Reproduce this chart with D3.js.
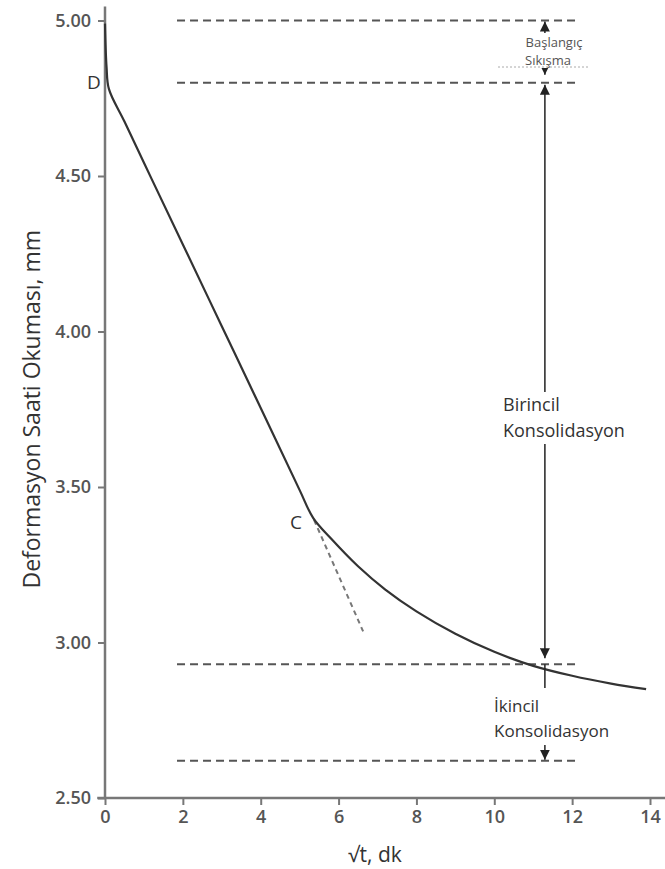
<!DOCTYPE html>
<html>
<head>
<meta charset="utf-8">
<script src="https://cdn.jsdelivr.net/npm/d3@7"></script>
<style>
  body { margin: 0; background: #fff; }
  text { font-family: "Open Sans", "Noto Sans", sans-serif; }
</style>
</head>
<body>
<div id="chart"></div>
<script>
// Curve: sqrt(t) vs dial reading
const sqrtT = [0, 0.04, 0.1, 0.5, 1.2, 2, 3, 4, 5, 5.35, 5.8, 6.5, 7.2, 8, 9, 10, 11, 12, 13, 13.9];
const reading = [4.99, 4.85, 4.78, 4.675, 4.49, 4.28, 4.017, 3.754, 3.49, 3.40, 3.335, 3.245, 3.17, 3.10, 3.028, 2.97, 2.925, 2.893, 2.868, 2.85];

// Tangent extension from C
const tangentX = [5.37, 6.63];
const tangentY = [3.394, 3.036];

// Reference levels (dashed)
const levels = [5.00, 4.80, 2.93, 2.62];
const levelSpan = [1.85, 12.2];
const arrowX = 11.3;

const xTicks = [0, 2, 4, 6, 8, 10, 12, 14];
const yTicks = [2.5, 3.0, 3.5, 4.0, 4.5, 5.0];

const width = 665, height = 869;

const svg = d3.select('#chart')
    .append('svg')
    .attr('width', width)
    .attr('height', height);

const x = d3.scaleLinear().domain([0, 14]).range([105, 650]);
const y = d3.scaleLinear().domain([2.5, 5]).range([798, 20.5]);

const axisColor = '#777';
const labelColor = '#555';

// Arrow markers
const defs = svg.append('defs');
defs.append('marker')
    .attr('id', 'arr')
    .attr('viewBox', '0 0 10 10')
    .attr('refX', 10).attr('refY', 5)
    .attr('markerWidth', 10).attr('markerHeight', 10)
    .attr('markerUnits', 'userSpaceOnUse')
    .attr('orient', 'auto-start-reverse')
    .append('path')
    .attr('d', 'M0,0 L10,5 L0,10 z')
    .attr('fill', '#222');

// Y axis
const yAxis = svg.append('g')
    .attr('transform', `translate(${x(0)},0)`)
    .call(d3.axisLeft(y).tickValues(yTicks).tickFormat(d3.format('.2f')).tickSize(7).tickSizeOuter(0));
yAxis.select('.domain').remove();
yAxis.selectAll('.tick line').attr('stroke', axisColor).attr('stroke-width', 2);
yAxis.selectAll('.tick text')
    .attr('x', -14)
    .attr('fill', labelColor)
    .attr('font-size', 18)
    .attr('font-weight', 600);

// X axis
const xAxis = svg.append('g')
    .attr('transform', `translate(0,${y(2.5)})`)
    .call(d3.axisBottom(x).tickValues(xTicks).tickSize(7).tickSizeOuter(0));
xAxis.select('.domain').remove();
xAxis.selectAll('.tick line').attr('stroke', axisColor).attr('stroke-width', 2);
xAxis.selectAll('.tick text')
    .attr('y', 12)
    .attr('fill', labelColor)
    .attr('font-size', 18)
    .attr('font-weight', 600);

// axis lines
svg.append('line')
    .attr('x1', x(0)).attr('x2', x(0))
    .attr('y1', y(2.5)).attr('y2', y(5.045))
    .attr('stroke', axisColor).attr('stroke-width', 2.5);
svg.append('line')
    .attr('x1', x(-0.2)).attr('x2', x(14.4))
    .attr('y1', y(2.5)).attr('y2', y(2.5))
    .attr('stroke', axisColor).attr('stroke-width', 2.5);

// Axis titles
svg.append('text')
    .attr('transform', `translate(40,${(y(2.5) + y(5)) / 2}) rotate(-90)`)
    .attr('text-anchor', 'middle')
    .attr('font-size', 23)
    .attr('fill', '#333')
    .text('Deformasyon Saati Okuması, mm');

svg.append('text')
    .attr('x', 375)
    .attr('y', 862)
    .attr('text-anchor', 'middle')
    .attr('font-size', 21)
    .attr('fill', '#333')
    .text('√t, dk');

// Dashed levels
svg.selectAll('line.level')
    .data(levels)
    .enter()
    .append('line')
    .attr('class', 'level')
    .attr('x1', x(levelSpan[0]))
    .attr('x2', x(levelSpan[1]))
    .attr('y1', d => y(d))
    .attr('y2', d => y(d))
    .attr('stroke', '#555')
    .attr('stroke-width', 2)
    .attr('stroke-dasharray', '8,5');

// Tangent line
svg.append('line')
    .attr('x1', x(tangentX[0])).attr('y1', y(tangentY[0]))
    .attr('x2', x(tangentX[1])).attr('y2', y(tangentY[1]))
    .attr('stroke', '#777')
    .attr('stroke-width', 2)
    .attr('stroke-dasharray', '5,4');

// Curve
const curveData = sqrtT.map((d, i) => ({ x: d, y: reading[i] }));
svg.append('path')
    .datum(curveData)
    .attr('fill', 'none')
    .attr('stroke', '#333')
    .attr('stroke-width', 2.2)
    .attr('d', d3.line().x(d => x(d.x)).y(d => y(d.y)).curve(d3.curveCatmullRom.alpha(0.5)));

// Vertical arrows
const ax = x(arrowX);
function vline(y1, y2, startArrow, endArrow) {
    const l = svg.append('line')
        .attr('x1', ax).attr('x2', ax)
        .attr('y1', y1).attr('y2', y2)
        .attr('stroke', '#222')
        .attr('stroke-width', 1.5);
    if (startArrow) l.attr('marker-start', 'url(#arr)');
    if (endArrow) l.attr('marker-end', 'url(#arr)');
}
// initial compression
vline(y(levels[0]) + 1, y(levels[1]) - 8, true, true);
// primary consolidation
vline(y(levels[1]) + 2, 392, true, false);
vline(444, y(levels[2]) - 6, false, true);
// secondary consolidation
vline(y(levels[2]), 688, false, false);
vline(745, y(levels[3]) - 1, false, true);

// Small annotation: initial compression
svg.append('rect')
    .attr('x', 520).attr('y', 33).attr('width', 68).attr('height', 35)
    .attr('fill', '#fff');
svg.append('line')
    .attr('x1', 498).attr('x2', 590)
    .attr('y1', 67).attr('y2', 67)
    .attr('stroke', '#aaa')
    .attr('stroke-width', 1)
    .attr('stroke-dasharray', '2,2');
svg.append('text')
    .attr('x', 554).attr('y', 47)
    .attr('text-anchor', 'middle')
    .attr('font-size', 13)
    .attr('fill', '#555')
    .text('Başlangıç');
svg.append('text')
    .attr('x', 548).attr('y', 65)
    .attr('text-anchor', 'middle')
    .attr('font-size', 13)
    .attr('fill', '#555')
    .text('Sıkışma');

// Primary consolidation label
svg.append('text')
    .attr('x', 503).attr('y', 411)
    .attr('font-size', 18)
    .attr('fill', '#333')
    .text('Birincil');
svg.append('text')
    .attr('x', 503).attr('y', 437)
    .attr('font-size', 18)
    .attr('fill', '#333')
    .text('Konsolidasyon');

// Secondary consolidation label
svg.append('text')
    .attr('x', 494).attr('y', 712)
    .attr('font-size', 17)
    .attr('fill', '#333')
    .text('İkincil');
svg.append('text')
    .attr('x', 494).attr('y', 737)
    .attr('font-size', 17)
    .attr('fill', '#333')
    .text('Konsolidasyon');

// Point labels
svg.append('text')
    .attr('x', 87).attr('y', 89)
    .attr('font-size', 19)
    .attr('fill', '#333')
    .text('D');
svg.append('text')
    .attr('x', 290).attr('y', 529)
    .attr('font-size', 19)
    .attr('fill', '#333')
    .text('C');
</script>
</body>
</html>
